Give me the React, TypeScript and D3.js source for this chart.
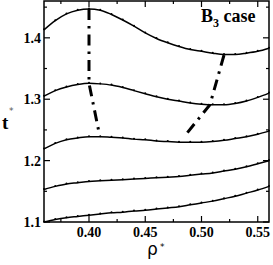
import React from "react";
import * as d3 from "d3";

// density grid shared by all isotherm-like curves
const rho = [
  0.36, 0.37, 0.38, 0.39, 0.40, 0.41, 0.42, 0.43, 0.44, 0.45, 0.46,
  0.47, 0.48, 0.49, 0.50, 0.51, 0.52, 0.53, 0.54, 0.55, 0.56,
];

// t* values, top curve first
const curve1 = [
  1.413, 1.428, 1.439, 1.445, 1.447, 1.445, 1.438, 1.429, 1.419, 1.408, 1.399,
  1.392, 1.386, 1.381, 1.378, 1.375, 1.373, 1.373, 1.375, 1.378, 1.383,
];
const curve2 = [
  1.305, 1.314, 1.320, 1.324, 1.326, 1.325, 1.323, 1.319, 1.314, 1.309, 1.304,
  1.300, 1.297, 1.294, 1.292, 1.291, 1.291, 1.293, 1.297, 1.303, 1.310,
];
const curve3 = [
  1.219, 1.228, 1.234, 1.237, 1.239, 1.239, 1.238, 1.237, 1.235, 1.234, 1.232,
  1.231, 1.230, 1.230, 1.230, 1.231, 1.233, 1.236, 1.239, 1.243, 1.248,
];
const curve4 = [
  1.153, 1.158, 1.162, 1.164, 1.166, 1.167, 1.168, 1.169, 1.170, 1.171, 1.172,
  1.173, 1.174, 1.176, 1.178, 1.180, 1.183, 1.186, 1.190, 1.195, 1.200,
];
const curve5 = [
  1.100, 1.104, 1.107, 1.109, 1.111, 1.113, 1.115, 1.116, 1.118, 1.119, 1.121,
  1.123, 1.125, 1.128, 1.131, 1.134, 1.138, 1.142, 1.147, 1.152, 1.158,
];
const curves = [curve1, curve2, curve3, curve4, curve5];

// dash-dot loci of the maxima (left) and minima (right)
const maxLocusRho = [0.40, 0.40, 0.409];
const maxLocusT = [1.447, 1.326, 1.245];
const minLocusRho = [0.52, 0.5075, 0.485];
const minLocusT = [1.372, 1.291, 1.240];

const xMajor = [0.40, 0.45, 0.50, 0.55];
const xMinor = [0.375, 0.425, 0.475, 0.525];
const yMajor = [1.1, 1.2, 1.3, 1.4];
const yMinor = [1.15, 1.25, 1.35, 1.45];

const W = 273;
const H = 265;
const margin = { top: 1, right: 4, bottom: 43, left: 44 };

export default function App() {
  const x = d3.scaleLinear().domain([0.36, 0.56]).range([margin.left, W - margin.right]);
  const y = d3.scaleLinear().domain([1.1, 1.46]).range([H - margin.bottom, margin.top]);
  const [x0, x1] = x.range();
  const [y0, y1] = y.range();

  const line = d3.line<[number, number]>()
    .x(d => x(d[0]))
    .y(d => y(d[1]))
    .curve(d3.curveMonotoneX);
  const locus = d3.line<[number, number]>()
    .x(d => x(d[0]))
    .y(d => y(d[1]))
    .curve(d3.curveLinear);

  const dash = "11,6,2.5,6";
  const serif = "'Liberation Serif', 'Times New Roman', serif";

  return (
    <svg width={W} height={H} style={{ position: "absolute", left: 0, top: 0, background: "#fff" }}>
      {/* curves + data dots */}
      {curves.map((c, i) => {
        const pts = rho.map((r, j) => [r, c[j]] as [number, number]);
        return (
          <g key={i}>
            <path d={line(pts) || ""} fill="none" stroke="#000" strokeWidth={1.5} />
            {pts.map((p, j) => (
              <circle key={j} cx={x(p[0])} cy={y(p[1]) - 0.5} r={1} fill="#000" />
            ))}
          </g>
        );
      })}

      <path
        d={locus(maxLocusRho.map((r, i) => [r, maxLocusT[i]] as [number, number])) || ""}
        fill="none" stroke="#000" strokeWidth={3} strokeDasharray={dash}
      />
      <path
        d={locus(minLocusRho.map((r, i) => [r, minLocusT[i]] as [number, number])) || ""}
        fill="none" stroke="#000" strokeWidth={3} strokeDasharray={dash}
      />

      {/* ticks, pointing inward on all four sides */}
      {xMajor.map(v => (
        <g key={"xM" + v}>
          <line x1={x(v)} x2={x(v)} y1={y0} y2={y0 - 6} stroke="#000" strokeWidth={1.2} />
          <line x1={x(v)} x2={x(v)} y1={y1} y2={y1 + 6} stroke="#000" strokeWidth={1.2} />
          <text x={x(v)} y={y0 + 15} textAnchor="middle" fontFamily={serif}
            fontWeight="bold" fontSize={14}>{v.toFixed(2)}</text>
        </g>
      ))}
      {xMinor.map(v => (
        <g key={"xm" + v}>
          <line x1={x(v)} x2={x(v)} y1={y0} y2={y0 - 3} stroke="#000" strokeWidth={1.2} />
          <line x1={x(v)} x2={x(v)} y1={y1} y2={y1 + 3} stroke="#000" strokeWidth={1.2} />
        </g>
      ))}
      {yMajor.map(v => (
        <g key={"yM" + v}>
          <line x1={x0} x2={x0 + 6} y1={y(v)} y2={y(v)} stroke="#000" strokeWidth={1.2} />
          <line x1={x1} x2={x1 - 6} y1={y(v)} y2={y(v)} stroke="#000" strokeWidth={1.2} />
          <text x={x0 - 3} y={y(v) + 5} textAnchor="end" fontFamily={serif}
            fontWeight="bold" fontSize={14}>{v.toFixed(1)}</text>
        </g>
      ))}
      {yMinor.map(v => (
        <g key={"ym" + v}>
          <line x1={x0} x2={x0 + 3} y1={y(v)} y2={y(v)} stroke="#000" strokeWidth={1.2} />
          <line x1={x1} x2={x1 - 3} y1={y(v)} y2={y(v)} stroke="#000" strokeWidth={1.2} />
        </g>
      ))}

      <rect x={x0} y={y1} width={x1 - x0} height={y0 - y1} fill="none" stroke="#000" strokeWidth={1.5} />

      {/* annotation */}
      <text x={201} y={22} fontFamily={serif} fontWeight="bold" fontSize={18}>
        B<tspan fontSize={12} dy={5}>3</tspan><tspan dy={-5}> case</tspan>
      </text>

      {/* axis titles */}
      <text x={2} y={129} fontFamily={serif} fontWeight="bold" fontSize={19}>t</text>
      <text x={9} y={114} fontFamily="'DejaVu Sans', sans-serif" fontSize={9} fill="#555">*</text>
      <text x={147} y={255} fontFamily="'DejaVu Sans', sans-serif" fontSize={17}>ρ</text>
      <text x={160} y={250} fontFamily="'DejaVu Sans', sans-serif" fontSize={9}>*</text>
    </svg>
  );
}
